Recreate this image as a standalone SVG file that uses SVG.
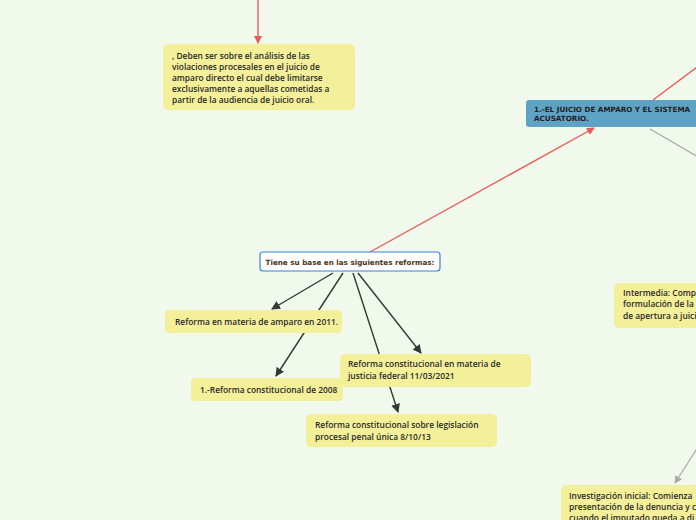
<svg xmlns="http://www.w3.org/2000/svg" width="696" height="520" viewBox="0 0 696 520">
<style>
.y{fill:#f4f09a}
.t{font-family:"Open Sans","Noto Sans",sans-serif;font-size:8.4px;font-weight:600;fill:#2a2a2a}
.b{font-family:"DejaVu Sans",sans-serif;font-size:7.2px;font-weight:bold;fill:#222}
.r{stroke:#e85a5a;stroke-width:1.4;fill:none}
.g{stroke:#aaaaaa;stroke-width:1.3;fill:none}
.d{stroke:#333a33;stroke-width:1.4;fill:none}
</style>
<defs>
<marker id="ar" markerWidth="8" markerHeight="8" refX="7" refY="4" orient="auto" markerUnits="userSpaceOnUse"><path d="M0,0 L8,4 L0,8z" fill="#e85a5a"/></marker>
<marker id="ag" markerWidth="8" markerHeight="8" refX="7" refY="4" orient="auto" markerUnits="userSpaceOnUse"><path d="M0,0 L8,4 L0,8z" fill="#aaaaaa"/></marker>
<marker id="ad" markerWidth="9" markerHeight="9" refX="8" refY="4.5" orient="auto" markerUnits="userSpaceOnUse"><path d="M0,0 L9,4.5 L0,9z" fill="#333a33"/></marker>
</defs>
<rect width="696" height="520" fill="#f0f9ec"/>
<g id="connectors">
<line class="r" x1="258" y1="0" x2="258" y2="43" marker-end="url(#ar)"/>
<line class="r" x1="370" y1="252" x2="594" y2="128" marker-end="url(#ar)"/>
<line class="r" x1="653" y1="100" x2="700" y2="65"/>
<line class="g" x1="650" y1="129" x2="700" y2="158"/>
<line class="g" x1="698" y1="447" x2="675" y2="483" marker-end="url(#ag)"/>
<line class="d" x1="333" y1="273" x2="272" y2="309" marker-end="url(#ad)"/>
<line class="d" x1="343" y1="273" x2="276" y2="376" marker-end="url(#ad)"/>
<line class="d" x1="353" y1="273" x2="398" y2="412" marker-end="url(#ad)"/>
<line class="d" x1="358" y1="273" x2="421" y2="353" marker-end="url(#ad)"/>
</g>
<g id="n1"><rect class="y" x="163" y="44" width="192" height="66" rx="5"/>
<text class="t"><tspan x="172" y="59">, Deben ser sobre el análisis de las</tspan><tspan x="172" y="70">violaciones procesales en el juicio de</tspan><tspan x="172" y="81">amparo directo el cual debe limitarse</tspan><tspan x="172" y="92">exclusivamente a aquellas cometidas a</tspan><tspan x="172" y="103">partir de la audiencia de juicio oral.</tspan></text></g>
<g id="n2"><rect x="526" y="100" width="180" height="27" rx="3" fill="#5fa3c4"/>
<text class="b"><tspan x="534" y="112">1.-EL JUICIO DE AMPARO Y EL SISTEMA</tspan><tspan x="534" y="121">ACUSATORIO.</tspan></text></g>
<g id="n3"><rect class="y" x="614" y="283" width="90" height="45" rx="5"/>
<text class="t"><tspan x="623" y="296">Intermedia: Comp</tspan><tspan x="623" y="307">formulación de la a</tspan><tspan x="623" y="319">de apertura a juici</tspan></text></g>
<g id="n4"><rect class="y" x="561" y="485" width="145" height="45" rx="5"/>
<text class="t"><tspan x="569" y="499">Investigación inicial: Comienza</tspan><tspan x="569" y="510">presentación de la denuncia y c</tspan><tspan x="569" y="521">cuando el imputado queda a di</tspan></text></g>
<g id="n5"><rect x="260" y="252" width="180" height="19" rx="3" fill="#fff" stroke="#3a82d8" stroke-width="1.2"/>
<text class="b" x="350" y="265" text-anchor="middle" fill="#5a3a1a" style="fill:#4a3318">Tiene su base en las siguientes reformas:</text></g>
<g id="n6"><rect class="y" x="165" y="310" width="177" height="23" rx="4"/>
<text class="t" x="175" y="325">Reforma en materia de amparo en 2011.</text></g>
<g id="n7"><rect class="y" x="191" y="378" width="152" height="23" rx="4"/>
<text class="t" x="200" y="393">1.-Reforma constitucional de 2008</text></g>
<g id="n8"><rect class="y" x="340" y="354" width="191" height="33" rx="5"/>
<text class="t"><tspan x="348" y="367">Reforma constitucional en materia de</tspan><tspan x="348" y="379">justicia federal 11/03/2021</tspan></text></g>
<g id="n9"><rect class="y" x="306" y="414" width="191" height="33" rx="5"/>
<text class="t"><tspan x="315" y="428">Reforma constitucional sobre legislación</tspan><tspan x="315" y="440">procesal penal única 8/10/13</tspan></text></g>
</svg>
